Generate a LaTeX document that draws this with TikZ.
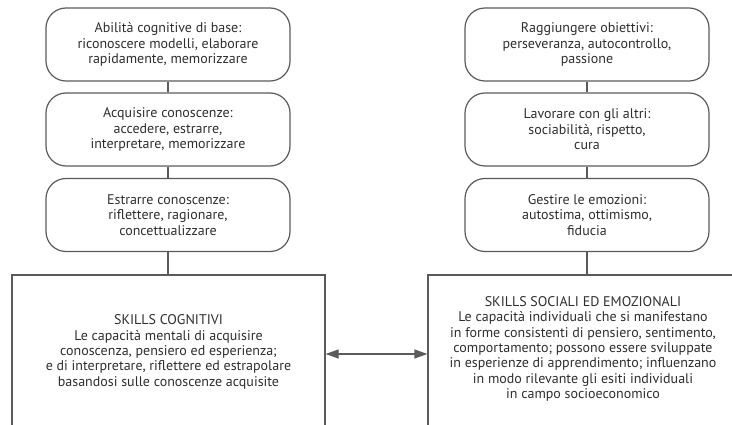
\documentclass[tikz,border=0pt]{standalone}
\usepackage{fontspec}
\setmainfont{PT Sans}
\usetikzlibrary{arrows.meta}
\definecolor{inkgrey}{HTML}{2E2E2E}
\definecolor{linegrey}{HTML}{5A5A5A}
\begin{document}
\begin{tikzpicture}[x=1pt,y=1pt,
  every node/.style={text=inkgrey, font=\fontsize{14}{15.4}\selectfont},
  stepbox/.style={draw=linegrey, line width=1.2pt, rounded corners=20pt,
    minimum width=244pt, minimum height=73pt, align=center, inner sep=0pt},
  frame/.style={draw=linegrey, line width=1.2pt, inner sep=0pt},
  body/.style={align=center, inner sep=0pt},
  link/.style={draw=linegrey, line width=1.2pt},
  both/.style={link, {Triangle[length=13pt,width=9pt]}-{Triangle[length=13pt,width=9pt]}}
]
\useasboundingbox (0,0) rectangle (732,-425);
\clip (0,0) rectangle (732,-425);

% cognitive chain
\node[stepbox] (c1) at (168,-44.5) {Abilità cognitive di base:\\riconoscere modelli, elaborare\\rapidamente, memorizzare};
\node[stepbox] (c2) at (168,-129.5) {Acquisire conoscenze:\\accedere, estrarre,\\interpretare, memorizzare};
\node[stepbox] (c3) at (168,-215) {Estrarre conoscenze:\\riflettere, ragionare,\\concettualizzare};

% social-emotional chain
\node[stepbox] (s1) at (587,-44.5) {Raggiungere obiettivi:\\perseveranza, autocontrollo,\\passione};
\node[stepbox] (s2) at (587,-129.5) {Lavorare con gli altri:\\sociabilità, rispetto,\\cura};
\node[stepbox] (s3) at (587,-215) {Gestire le emozioni:\\autostima, ottimismo,\\fiducia};

% large frames running off the lower edge
\node[frame, minimum width=313pt, minimum height=180pt] (cog) at (168.5,-365) {};
\node[frame, minimum width=318pt, minimum height=180pt] (soc) at (587,-365) {};

\node[body] (cogtext) at (168.5,-352) {SKILLS COGNITIVI\\Le capacità mentali di acquisire\\conoscenza, pensiero ed esperienza;\\e di interpretare, riflettere ed estrapolare\\basandosi sulle conoscenze acquisite};
\node[body] (soctext) at (583,-349) {SKILLS SOCIALI ED EMOZIONALI\\Le capacità individuali che si manifestano\\in forme consistenti di pensiero, sentimento,\\comportamento; possono essere sviluppate\\in esperienze di apprendimento; influenzano\\in modo rilevante gli esiti individuali\\in campo socioeconomico};

% connectors
\draw[link] (c1) -- (c2);
\draw[link] (c2) -- (c3);
\draw[link] (c3) -- (c3 |- cog.north);
\draw[link] (s1) -- (s2);
\draw[link] (s2) -- (s3);
\draw[link] (s3) -- (s3 |- soc.north);

\coordinate (arrowrow) at (0,-354);
\draw[both] (cog.east |- arrowrow) -- (soc.west |- arrowrow);
\end{tikzpicture}
\end{document}
